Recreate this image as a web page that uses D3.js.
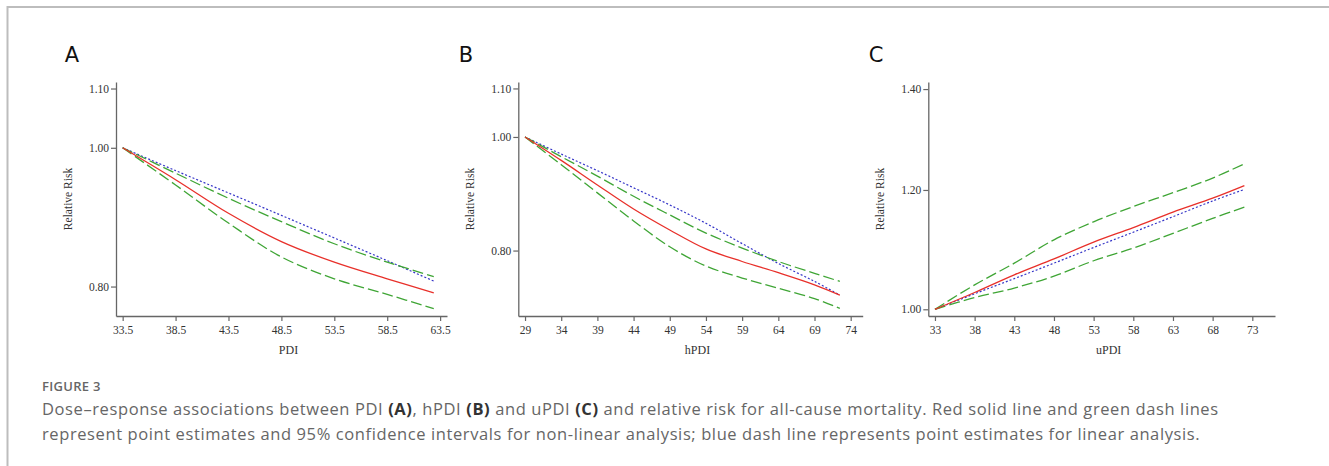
<!DOCTYPE html>
<html>
<head>
<meta charset="utf-8">
<script src="https://cdn.jsdelivr.net/npm/d3@7"></script>
<style>
  body { margin: 0; background: #fff; }
  svg { display: block; }
</style>
</head>
<body>
<div id="chart"></div>
<script>
// Dose-response curves, three panels (log relative risk)

// Panel A — PDI
const pdiX      = [33.5, 38.5, 43.5, 48.5, 53.5, 58.5, 62.9];
const pdiRR     = [1, 0.950, 0.900, 0.860, 0.832, 0.810, 0.792];
const pdiUpper  = [1, 0.960, 0.922, 0.888, 0.857, 0.832, 0.813];
const pdiLower  = [1, 0.942, 0.886, 0.839, 0.810, 0.790, 0.772];
const pdiLinear = [1, 0.964, 0.930, 0.897, 0.865, 0.834, 0.807];
const pdiXTicks = [33.5, 38.5, 43.5, 48.5, 53.5, 58.5, 63.5];
const pdiYTicks = [0.80, 1.00, 1.10];

// Panel B — hPDI
const hpdiX      = [29, 34, 39, 44, 49, 54, 59, 64, 69, 72.5];
const hpdiRR     = [1, 0.955, 0.910, 0.868, 0.833, 0.8025, 0.783, 0.766, 0.748, 0.733];
const hpdiUpper  = [1, 0.962, 0.926, 0.890, 0.858, 0.828, 0.804, 0.783, 0.765, 0.753];
const hpdiLower  = [1, 0.947, 0.896, 0.848, 0.806, 0.776, 0.758, 0.743, 0.728, 0.714];
const hpdiLinear = [1, 0.967, 0.936, 0.905, 0.875, 0.844, 0.811, 0.780, 0.753, 0.733];
const hpdiXTicks = [29, 34, 39, 44, 49, 54, 59, 64, 69, 74];
const hpdiYTicks = [0.80, 1.00, 1.10];

// Panel C — uPDI
const updiX      = [33, 38, 43, 48, 53, 58, 63, 68, 72];
const updiRR     = [1, 1.026, 1.054, 1.080, 1.108, 1.133, 1.160, 1.185, 1.208];
const updiUpper  = [1, 1.038, 1.073, 1.112, 1.143, 1.170, 1.195, 1.222, 1.249];
const updiLower  = [1, 1.018, 1.033, 1.052, 1.077, 1.098, 1.123, 1.149, 1.169];
const updiLinear = [1, 1.024, 1.048, 1.073, 1.099, 1.125, 1.152, 1.180, 1.201];
const updiXTicks = [33, 38, 43, 48, 53, 58, 63, 68, 73];
const updiYTicks = [1.00, 1.20, 1.40];

const W = 1329, H = 466;
const RED = '#e8302a', GREEN = '#3fa535', BLUE = '#3535c8';

const svg = d3.select('#chart').append('svg')
  .attr('width', W).attr('height', H);

svg.append('rect').attr('width', W).attr('height', H).attr('fill', '#fff');

// frame
svg.append('path')
  .attr('d', `M7.5,${H} L7.5,7 L${W},7`)
  .attr('fill', 'none').attr('stroke', '#bdbdbd').attr('stroke-width', 2);

const panels = [
  { letter: 'A', letterX: 72, title: 'PDI', x: pdiX, rr: pdiRR, up: pdiUpper, lo: pdiLower, lin: pdiLinear,
    xTicks: pdiXTicks, yTicks: pdiYTicks, xFmt: d3.format('.1f'),
    xr: [116, 447], xd: [32.87, 64.15], yd: [0.763, 1.1116], ylabX: 68 },
  { letter: 'B', letterX: 466, title: 'hPDI', x: hpdiX, rr: hpdiRR, up: hpdiUpper, lo: hpdiLower, lin: hpdiLinear,
    xTicks: hpdiXTicks, yTicks: hpdiYTicks, xFmt: d3.format('d'),
    xr: [518.3, 862.7], xd: [28.07, 75.66], yd: [0.7035, 1.114], ylabX: 470 },
  { letter: 'C', letterX: 876, title: 'uPDI', x: updiX, rr: updiRR, up: updiUpper, lo: updiLower, lin: updiLinear,
    xTicks: updiXTicks, yTicks: updiYTicks, xFmt: d3.format('d'),
    xr: [928.3, 1275], xd: [32.16, 75.86], yd: [0.9898, 1.4152], ylabX: 880 }
];

const yr = [316, 82];

panels.forEach(p => {
  const x = d3.scaleLinear().domain(p.xd).range(p.xr);
  const y = d3.scaleLog().domain(p.yd).range(yr);
  const g = svg.append('g');

  // panel letter
  g.append('text')
    .attr('x', p.letterX).attr('y', 62)
    .attr('text-anchor', 'middle')
    .style('font-family', '"DejaVu Sans", sans-serif')
    .style('font-size', '21px').style('fill', '#111')
    .text(p.letter);

  // axes
  const xAxis = g.append('g').attr('transform', `translate(0,${yr[0]})`)
    .call(d3.axisBottom(x).tickValues(p.xTicks).tickFormat(p.xFmt).tickSize(5).tickSizeOuter(0));
  const yAxis = g.append('g').attr('transform', `translate(${p.xr[0]},0)`)
    .call(d3.axisLeft(y).tickValues(p.yTicks).tickFormat(d3.format('.2f')).tickSize(5).tickSizeOuter(0));

  [xAxis, yAxis].forEach(a => {
    a.select('.domain').attr('stroke', '#666').attr('stroke-width', 1.3);
    a.selectAll('.tick line').attr('stroke', '#666').attr('stroke-width', 1.2);
    a.selectAll('.tick text')
      .style('font-family', '"Liberation Serif", "Times New Roman", serif')
      .style('font-size', '11.5px').style('fill', '#333');
  });
  xAxis.selectAll('.tick text').attr('dy', '0.9em');
  yAxis.selectAll('.tick text').attr('x', -7);

  // axis titles
  g.append('text')
    .attr('transform', `translate(${p.ylabX},199) rotate(-90)`)
    .attr('text-anchor', 'middle').attr('dy', '0.35em')
    .style('font-family', '"Liberation Serif", serif')
    .style('font-size', '11.5px').style('fill', '#333')
    .text('Relative Risk');

  g.append('text')
    .attr('x', (p.xr[0] + p.xr[1]) / 2 + 7).attr('y', 354)
    .attr('text-anchor', 'middle')
    .style('font-family', '"Liberation Serif", serif')
    .style('font-size', '12px').style('fill', '#333')
    .text(p.title);

  const line = vals => d3.line()
    .x((d, i) => x(p.x[i]))
    .y(d => y(d))
    .curve(d3.curveCatmullRom.alpha(0.5))(vals);

  g.append('path').attr('d', line(p.lin))
    .attr('fill', 'none').attr('stroke', BLUE).attr('stroke-width', 1.2)
    .attr('stroke-dasharray', '2,2');
  g.append('path').attr('d', line(p.up))
    .attr('fill', 'none').attr('stroke', GREEN).attr('stroke-width', 1.3)
    .attr('stroke-dasharray', '11,4');
  g.append('path').attr('d', line(p.lo))
    .attr('fill', 'none').attr('stroke', GREEN).attr('stroke-width', 1.3)
    .attr('stroke-dasharray', '11,4');
  g.append('path').attr('d', line(p.rr))
    .attr('fill', 'none').attr('stroke', RED).attr('stroke-width', 1.3);
});

// caption
const cap = svg.append('g')
  .style('font-family', '"Open Sans", Lato, sans-serif')
  .style('fill', '#666');

cap.append('text')
  .attr('x', 42).attr('y', 390.5)
  .style('font-size', '13px').style('font-weight', 600).style('letter-spacing', '0.3px')
  .text('FIGURE 3');

const l1 = cap.append('text').attr('x', 42).attr('y', 415)
  .style('font-size', '16.5px').style('letter-spacing', '0.6px');
[['Dose–response associations between PDI ', false], ['(A)', true], [', hPDI ', false], ['(B)', true],
 [' and uPDI ', false], ['(C)', true],
 [' and relative risk for all-cause mortality. Red solid line and green dash lines', false]]
  .forEach(([t, b]) => {
    l1.append('tspan').text(t)
      .style('font-weight', b ? 700 : 400)
      .style('fill', b ? '#333' : '#666');
  });

cap.append('text').attr('x', 42).attr('y', 439.5)
  .style('font-size', '16.5px').style('letter-spacing', '0.6px')
  .text('represent point estimates and 95% confidence intervals for non-linear analysis; blue dash line represents point estimates for linear analysis.');
</script>
</body>
</html>
